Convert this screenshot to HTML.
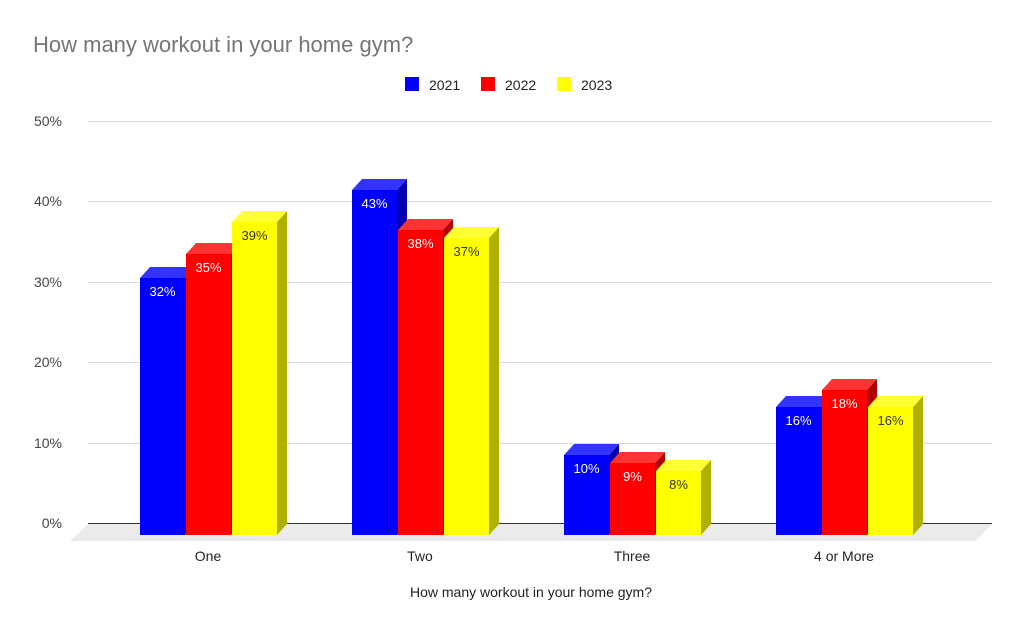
<!DOCTYPE html>
<html><head><meta charset="utf-8"><style>body{margin:0;background:#fff}svg{display:block}text{font-family:"Liberation Sans",Arial,sans-serif}</style></head><body>
<svg width="1024" height="633" viewBox="0 0 1024 633">
<text x="33" y="52" font-size="22" fill="#757575">How many workout in your home gym?</text>
<rect x="405" y="77" width="14" height="14" fill="#0000ff"/><text x="429" y="90" font-size="14" fill="#222">2021</text>
<rect x="481" y="77" width="14" height="14" fill="#ff0000"/><text x="505" y="90" font-size="14" fill="#222">2022</text>
<rect x="557" y="77" width="14" height="14" fill="#ffff00"/><text x="581" y="90" font-size="14" fill="#222">2023</text>
<g stroke="#d9d9d9" stroke-width="1">
<line x1="88" y1="121.5" x2="992" y2="121.5"/><line x1="88" y1="201.5" x2="992" y2="201.5"/><line x1="88" y1="282.5" x2="992" y2="282.5"/><line x1="88" y1="362.5" x2="992" y2="362.5"/><line x1="88" y1="443.5" x2="992" y2="443.5"/></g>
<polygon points="88,524 992,524 976,541 70,541" fill="#ebebeb"/>
<line x1="88" y1="523.5" x2="992" y2="523.5" stroke="#333" stroke-width="1"/>
<g font-size="14" fill="#444" text-anchor="end">
<text x="62" y="126">50%</text><text x="62" y="206">40%</text><text x="62" y="287">30%</text><text x="62" y="367">20%</text><text x="62" y="448">10%</text><text x="62" y="528">0%</text></g>

<g font-size="13" text-anchor="middle">
<!-- One -->
<polygon points="185,278 195,267 195,524 185,535" fill="#0000b0"/><polygon points="140,278 150,267 195,267 185,278" fill="#3333ff"/><rect x="140" y="278" width="45" height="257" fill="#0000ff"/><text x="162.5" y="296" fill="#fff">32%</text>
<polygon points="231,254 241,243 241,524 231,535" fill="#b00000"/><polygon points="186,254 196,243 241,243 231,254" fill="#ff3333"/><rect x="186" y="254" width="45" height="281" fill="#ff0000"/><text x="208.5" y="272" fill="#fff">35%</text>
<polygon points="277,222 287,211 287,524 277,535" fill="#b0b000"/><polygon points="232,222 242,211 287,211 277,222" fill="#ffff33"/><rect x="232" y="222" width="45" height="313" fill="#ffff00"/><text x="254.5" y="240" fill="#333">39%</text>
<!-- Two -->
<polygon points="397,190 407,179 407,524 397,535" fill="#0000b0"/><polygon points="352,190 362,179 407,179 397,190" fill="#3333ff"/><rect x="352" y="190" width="45" height="345" fill="#0000ff"/><text x="374.5" y="208" fill="#fff">43%</text>
<polygon points="443,230 453,219 453,524 443,535" fill="#b00000"/><polygon points="398,230 408,219 453,219 443,230" fill="#ff3333"/><rect x="398" y="230" width="45" height="305" fill="#ff0000"/><text x="420.5" y="248" fill="#fff">38%</text>
<polygon points="489,238 499,227 499,524 489,535" fill="#b0b000"/><polygon points="444,238 454,227 499,227 489,238" fill="#ffff33"/><rect x="444" y="238" width="45" height="297" fill="#ffff00"/><text x="466.5" y="256" fill="#333">37%</text>
<!-- Three -->
<polygon points="609,455 619,444 619,524 609,535" fill="#0000b0"/><polygon points="564,455 574,444 619,444 609,455" fill="#3333ff"/><rect x="564" y="455" width="45" height="80" fill="#0000ff"/><text x="586.5" y="473" fill="#fff">10%</text>
<polygon points="655,463 665,452 665,524 655,535" fill="#b00000"/><polygon points="610,463 620,452 665,452 655,463" fill="#ff3333"/><rect x="610" y="463" width="45" height="72" fill="#ff0000"/><text x="632.5" y="481" fill="#fff">9%</text>
<polygon points="701,471 711,460 711,524 701,535" fill="#b0b000"/><polygon points="656,471 666,460 711,460 701,471" fill="#ffff33"/><rect x="656" y="471" width="45" height="64" fill="#ffff00"/><text x="678.5" y="489" fill="#333">8%</text>
<!-- 4 or More -->
<polygon points="821,407 831,396 831,524 821,535" fill="#0000b0"/><polygon points="776,407 786,396 831,396 821,407" fill="#3333ff"/><rect x="776" y="407" width="45" height="128" fill="#0000ff"/><text x="798.5" y="425" fill="#fff">16%</text>
<polygon points="867,390 877,379 877,524 867,535" fill="#b00000"/><polygon points="822,390 832,379 877,379 867,390" fill="#ff3333"/><rect x="822" y="390" width="45" height="145" fill="#ff0000"/><text x="844.5" y="408" fill="#fff">18%</text>
<polygon points="913,407 923,396 923,524 913,535" fill="#b0b000"/><polygon points="868,407 878,396 923,396 913,407" fill="#ffff33"/><rect x="868" y="407" width="45" height="128" fill="#ffff00"/><text x="890.5" y="425" fill="#333">16%</text>
</g>

<g font-size="14" fill="#222" text-anchor="middle">
<text x="208" y="561">One</text><text x="420" y="561">Two</text><text x="632" y="561">Three</text><text x="844" y="561">4 or More</text>
<text x="531" y="597">How many workout in your home gym?</text></g>
</svg></body></html>
